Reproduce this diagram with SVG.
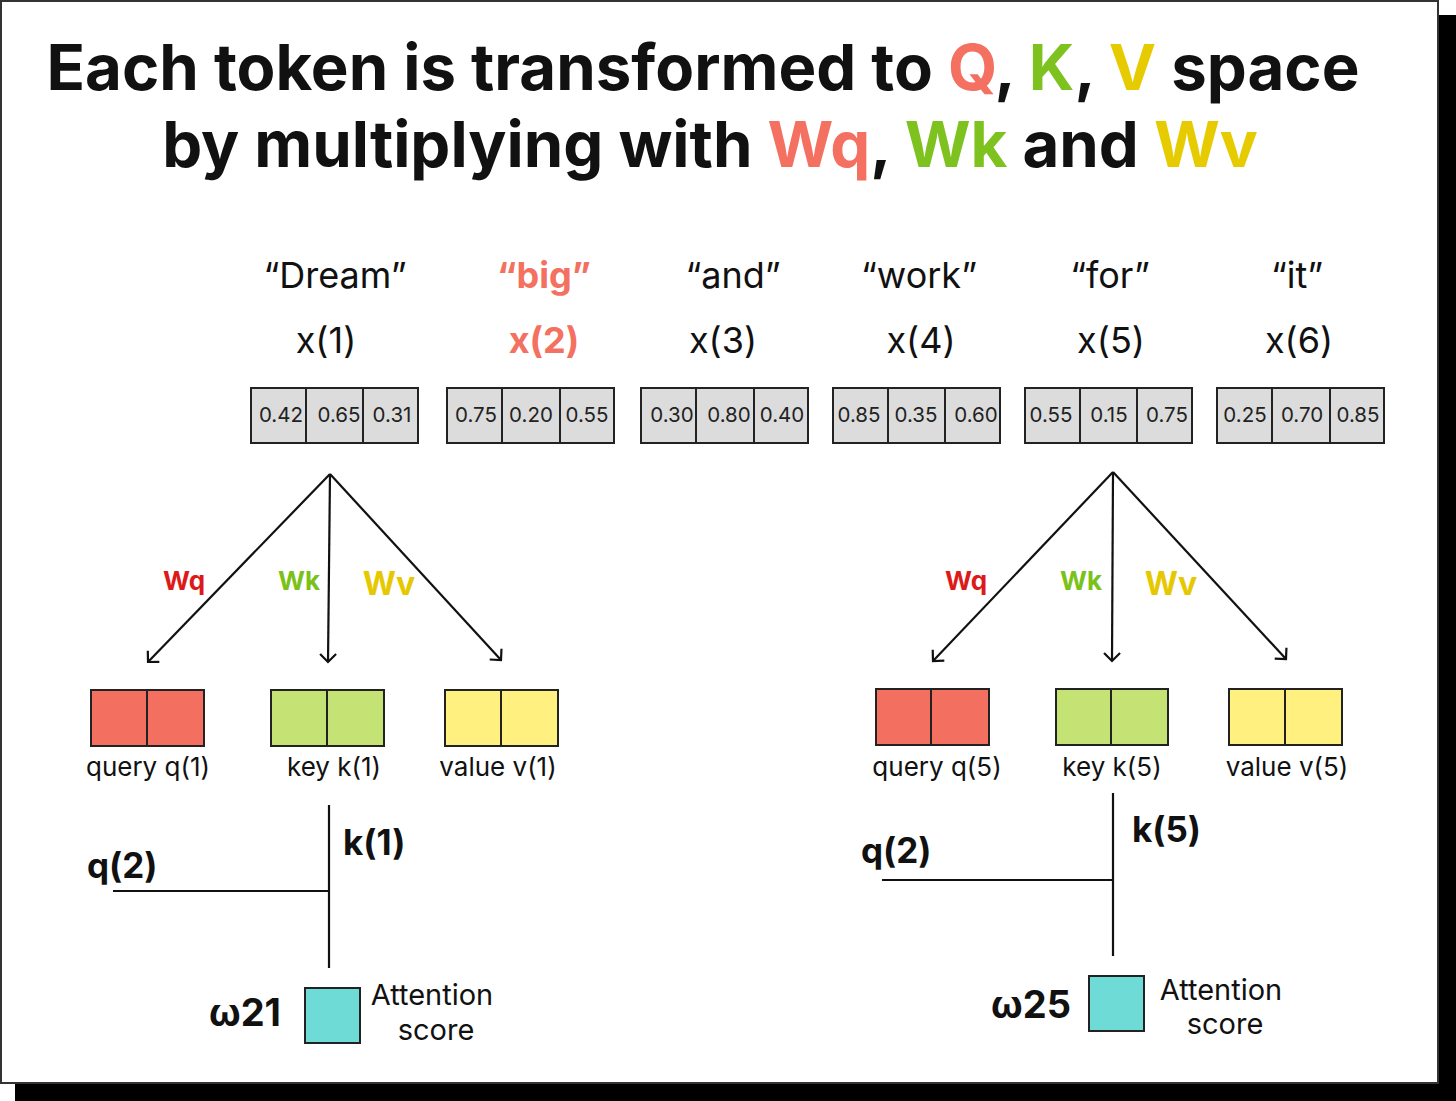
<svg xmlns="http://www.w3.org/2000/svg" width="1456" height="1101" viewBox="0 0 1456 1101">
<defs>
<style>
text{font-family:Inter,"Noto Sans","Liberation Sans",sans-serif;fill:#111}
.title{font-size:63.5px;font-weight:700;text-anchor:middle}
.tok{font-size:36px;text-anchor:middle}
.num{font-size:20.5px;text-anchor:middle;fill:#222}
.cell{fill:#dcdcdc;stroke:#222;stroke-width:2}
.lbl{font-size:26px;text-anchor:middle}
.w{font-weight:700;text-anchor:middle}
.b{font-weight:700}
.att{font-size:29px;text-anchor:middle}
.ln{stroke:#111;stroke-width:2.2;fill:none}
.q{fill:#f36f5f;stroke:#222;stroke-width:2}
.k{fill:#c5e274;stroke:#222;stroke-width:2}
.v{fill:#fff080;stroke:#222;stroke-width:2}
.s{fill:#6edbd6;stroke:#222;stroke-width:2}
</style>
<marker id="ah" viewBox="0 0 20 20" refX="10" refY="10" markerWidth="20" markerHeight="20" markerUnits="userSpaceOnUse" orient="auto">
<path d="M2,2 L10,10 L2,18" fill="none" stroke="#111" stroke-width="2.2"/>
</marker>
</defs>
<rect x="15" y="15" width="1441" height="1086" fill="#000"/>
<rect x="1" y="1" width="1437" height="1082" fill="#fff" stroke="#333" stroke-width="2"/>

<g id="title">
<text class="title" x="703" y="90">Each token is transformed to <tspan fill="#f47060">Q</tspan>, <tspan fill="#7dc21e">K</tspan>, <tspan fill="#e6cb00">V</tspan> space</text>
<text class="title" x="710" y="167">by multiplying with <tspan fill="#f47060">Wq</tspan>, <tspan fill="#7dc21e">Wk</tspan> and <tspan fill="#e6cb00">Wv</tspan></text>
</g>

<g id="token1">
<text class="tok" x="335" y="288">“Dream”</text>
<text class="tok" x="326" y="353">x(1)</text>
<rect class="cell" x="251" y="388" width="55" height="55"/><rect class="cell" x="306" y="388" width="57" height="55"/><rect class="cell" x="363" y="388" width="55" height="55"/>
<text class="num" x="281" y="422">0.42</text><text class="num" x="339" y="422">0.65</text><text class="num" x="392" y="422">0.31</text>
</g>
<g id="token2">
<text class="tok" x="544" y="288" font-weight="700" style="fill:#f47060">“big”</text>
<text class="tok" x="544" y="353" font-weight="700" style="fill:#f47060">x(2)</text>
<rect class="cell" x="447" y="388" width="55" height="55"/><rect class="cell" x="502" y="388" width="58" height="55"/><rect class="cell" x="560" y="388" width="54" height="55"/>
<text class="num" x="476" y="422">0.75</text><text class="num" x="531" y="422">0.20</text><text class="num" x="587" y="422">0.55</text>
</g>
<g id="token3">
<text class="tok" x="733" y="288">“and”</text>
<text class="tok" x="723" y="353">x(3)</text>
<rect class="cell" x="641" y="388" width="55" height="55"/><rect class="cell" x="696" y="388" width="58" height="55"/><rect class="cell" x="754" y="388" width="54" height="55"/>
<text class="num" x="672" y="422">0.30</text><text class="num" x="729" y="422">0.80</text><text class="num" x="782" y="422">0.40</text>
</g>
<g id="token4">
<text class="tok" x="919" y="288">“work”</text>
<text class="tok" x="921" y="353">x(4)</text>
<rect class="cell" x="833" y="388" width="55" height="55"/><rect class="cell" x="888" y="388" width="57" height="55"/><rect class="cell" x="945" y="388" width="55" height="55"/>
<text class="num" x="859" y="422">0.85</text><text class="num" x="916" y="422">0.35</text><text class="num" x="976" y="422">0.60</text>
</g>
<g id="token5">
<text class="tok" x="1110" y="288">“for”</text>
<text class="tok" x="1111" y="353">x(5)</text>
<rect class="cell" x="1025" y="388" width="55" height="55"/><rect class="cell" x="1080" y="388" width="57" height="55"/><rect class="cell" x="1137" y="388" width="55" height="55"/>
<text class="num" x="1051" y="422">0.55</text><text class="num" x="1109" y="422">0.15</text><text class="num" x="1167" y="422">0.75</text>
</g>
<g id="token6">
<text class="tok" x="1297" y="288">“it”</text>
<text class="tok" x="1299" y="353">x(6)</text>
<rect class="cell" x="1217" y="388" width="55" height="55"/><rect class="cell" x="1272" y="388" width="58" height="55"/><rect class="cell" x="1330" y="388" width="54" height="55"/>
<text class="num" x="1245" y="422">0.25</text><text class="num" x="1302" y="422">0.70</text><text class="num" x="1358" y="422">0.85</text>
</g>

<g id="connectors">
<line class="ln" x1="330" y1="474" x2="148" y2="662" marker-end="url(#ah)"/>
<line class="ln" x1="330" y1="474" x2="328" y2="662" marker-end="url(#ah)"/>
<line class="ln" x1="330" y1="474" x2="501" y2="660" marker-end="url(#ah)"/>
<line class="ln" x1="1113" y1="472" x2="933" y2="661" marker-end="url(#ah)"/>
<line class="ln" x1="1113" y1="472" x2="1112" y2="661" marker-end="url(#ah)"/>
<line class="ln" x1="1113" y1="472" x2="1286" y2="659" marker-end="url(#ah)"/>
<line class="ln" x1="329" y1="805" x2="329" y2="968"/>
<line class="ln" x1="113" y1="891" x2="329" y2="891"/>
<line class="ln" x1="1113" y1="793" x2="1113" y2="956"/>
<line class="ln" x1="882" y1="880" x2="1113" y2="880"/>
</g>

<g id="weights1">
<text class="w" x="184" y="590" font-size="26" style="fill:#dd1a1a">Wq</text>
<text class="w" x="299" y="590" font-size="26" style="fill:#7ac21a">Wk</text>
<text class="w" x="389" y="595" font-size="32" style="fill:#e6c800">Wv</text>
</g>
<g id="weights5">
<text class="w" x="966" y="590" font-size="26" style="fill:#dd1a1a">Wq</text>
<text class="w" x="1081" y="590" font-size="26" style="fill:#7ac21a">Wk</text>
<text class="w" x="1171" y="595" font-size="32" style="fill:#e6c800">Wv</text>
</g>

<g id="query1"><rect class="q" x="91" y="690" width="56" height="56"/><rect class="q" x="147" y="690" width="57" height="56"/><text class="lbl" x="148" y="776">query q(1)</text></g>
<g id="key1"><rect class="k" x="271" y="690" width="56" height="56"/><rect class="k" x="327" y="690" width="57" height="56"/><text class="lbl" x="334" y="776">key k(1)</text></g>
<g id="value1"><rect class="v" x="445" y="690" width="56" height="56"/><rect class="v" x="501" y="690" width="57" height="56"/><text class="lbl" x="498" y="776">value v(1)</text></g>
<g id="query5"><rect class="q" x="876" y="689" width="55" height="56"/><rect class="q" x="931" y="689" width="58" height="56"/><text class="lbl" x="937" y="776">query q(5)</text></g>
<g id="key5"><rect class="k" x="1056" y="689" width="55" height="56"/><rect class="k" x="1111" y="689" width="57" height="56"/><text class="lbl" x="1112" y="776">key k(5)</text></g>
<g id="value5"><rect class="v" x="1229" y="689" width="56" height="56"/><rect class="v" x="1285" y="689" width="57" height="56"/><text class="lbl" x="1287" y="776">value v(5)</text></g>

<g id="score21">
<text class="b" x="87" y="878" font-size="35">q(2)</text>
<text class="b" x="343" y="855" font-size="35">k(1)</text>
<text class="b" x="281" y="1026" font-size="38" text-anchor="end">ω21</text>
<rect class="s" x="305" y="988" width="55" height="55"/>
<text class="att" x="432" y="1005">Attention</text>
<text class="att" x="436" y="1040">score</text>
</g>
<g id="score25">
<text class="b" x="861" y="863" font-size="35">q(2)</text>
<text class="b" x="1132" y="842" font-size="35">k(5)</text>
<text class="b" x="1071" y="1018" font-size="38" text-anchor="end">ω25</text>
<rect class="s" x="1089" y="976" width="55" height="55"/>
<text class="att" x="1221" y="1000">Attention</text>
<text class="att" x="1225" y="1034">score</text>
</g>
</svg>
